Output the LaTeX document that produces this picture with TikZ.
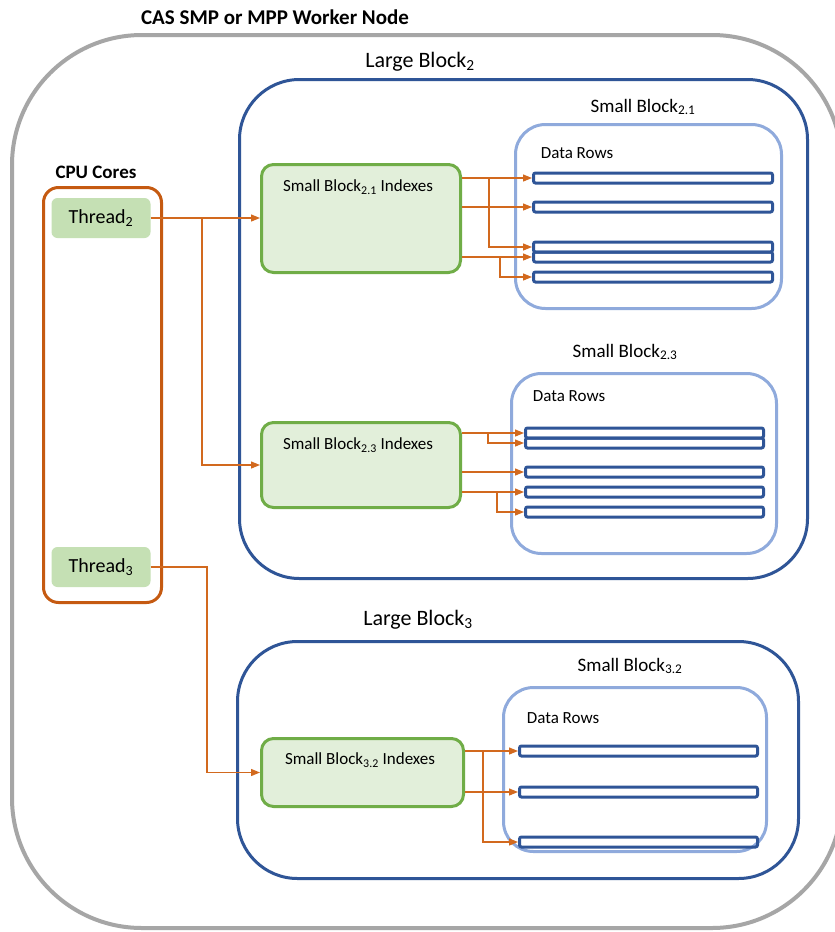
\documentclass[tikz,border=0pt]{standalone}
\usepackage{fontspec}
\setmainfont{Carlito}
\usetikzlibrary{arrows.meta,calc}
\definecolor{outergray}{HTML}{A6A6A6}
\definecolor{darkblue}{HTML}{2F5597}
\definecolor{lightblue}{HTML}{8FAADC}
\definecolor{idxgreen}{HTML}{70AD47}
\definecolor{idxfill}{HTML}{E2EFDA}
\definecolor{thrfill}{HTML}{C5E0B4}
\definecolor{cpuorange}{HTML}{C55A11}
\definecolor{arrorange}{HTML}{D2691E}
\newcommand{\fs}[1]{\fontsize{#1}{#1}\selectfont}
\begin{document}
\begin{tikzpicture}[x=1pt,y=-1pt,
  box/.style={rectangle,anchor=north west,inner sep=0pt},
  lblock/.style={box,draw=darkblue,line width=3pt,rounded corners=60pt},
  sblock/.style={box,draw=lightblue,line width=3pt,rounded corners=30pt},
  idx/.style={box,draw=idxgreen,fill=idxfill,line width=3pt,rounded corners=12pt},
  datarow/.style={rectangle,anchor=west,inner sep=0pt,draw=darkblue,line width=3pt,rounded corners=2pt,minimum height=10pt},
  thr/.style={rectangle,fill=thrfill,rounded corners=6pt,minimum width=99pt,minimum height=40pt,inner sep=0pt,font=\fs{20}},
  arr/.style={draw=arrorange,line width=1.2pt,-{Triangle[length=9pt,width=7pt]}},
  lbl/.style={inner sep=0pt}
]
\useasboundingbox (0,0) rectangle (835,932);
\clip (0,0) rectangle (835,932);
\fill[white] (0,0) rectangle (835,932);

% outer node
\draw[outergray,line width=4pt,rounded corners=130pt] (12,35) rectangle (842,928);
\node[lbl,font=\bfseries\fs{21}] (title) at (275,17) {CAS SMP or MPP Worker Node};

% CPU cores
\node[lbl,font=\bfseries\fs{19}] (cpulbl) at (96,172) {CPU Cores};
\node[box,draw=cpuorange,line width=3pt,rounded corners=15pt,minimum width=118pt,minimum height=415pt] (cpu) at (42,186) {};
\node[thr] (t2) at (101,218) {Thread\textsubscript{2}};
\node[thr] (t3) at (101,567) {Thread\textsubscript{3}};

% Large block 2
\node[lbl,font=\fs{22}] (lb2lbl) at (420,62) {Large Block\textsubscript{2}};
\node[lblock,minimum width=568pt,minimum height=499pt] (lb2) at (238,78) {};

% small block 2.1
\node[lbl,font=\fs{19}] (sb21lbl) at (643,107) {Small Block\textsubscript{2.1}};
\node[sblock,minimum width=266pt,minimum height=184pt] (sb21) at (514,123) {};
\node[lbl,font=\fs{17}] (dr21) at (577,153) {Data Rows};
\node[datarow,minimum width=239pt] (r21a) at (532,178) {};
\node[datarow,minimum width=239pt] (r21b) at (532,207) {};
\node[datarow,minimum width=239pt] (r21c) at (532,247) {};
\node[datarow,minimum width=239pt] (r21d) at (532,257) {};
\node[datarow,minimum width=239pt] (r21e) at (532,277) {};
\node[idx,minimum width=199pt,minimum height=108pt] (i21) at (260,163) {};
\node[lbl,font=\fs{17}] (i21lbl) at (358,187) {Small Block\textsubscript{2.1} Indexes};

% small block 2.3
\node[lbl,font=\fs{19}] (sb23lbl) at (625,352) {Small Block\textsubscript{2.3}};
\node[sblock,minimum width=265pt,minimum height=180pt] (sb23) at (510,372) {};
\node[lbl,font=\fs{17}] (dr23) at (569,396) {Data Rows};
\node[datarow,minimum width=238pt] (r23a) at (524,433) {};
\node[datarow,minimum width=238pt] (r23b) at (524,443) {};
\node[datarow,minimum width=238pt] (r23c) at (524,472) {};
\node[datarow,minimum width=238pt] (r23d) at (524,492) {};
\node[datarow,minimum width=238pt] (r23e) at (524,512) {};
\node[idx,minimum width=199pt,minimum height=85pt] (i23) at (260,421) {};
\node[lbl,font=\fs{17}] (i23lbl) at (358,445) {Small Block\textsubscript{2.3} Indexes};

% Large block 3
\node[lbl,font=\fs{22}] (lb3lbl) at (418,620) {Large Block\textsubscript{3}};
\node[lblock,minimum width=561pt,minimum height=237pt] (lb3) at (236,640) {};
\node[lbl,font=\fs{19}] (sb32lbl) at (630,666) {Small Block\textsubscript{3.2}};
\node[sblock,minimum width=263pt,minimum height=164pt] (sb32) at (502,686) {};
\node[lbl,font=\fs{17}] (dr32) at (563,718) {Data Rows};
\node[datarow,minimum width=238pt] (r32a) at (518,751) {};
\node[datarow,minimum width=238pt] (r32b) at (518,792) {};
\node[datarow,minimum width=238pt] (r32c) at (518,842) {};
\node[idx,minimum width=202pt,minimum height=68pt] (i32) at (260,737) {};
\node[lbl,font=\fs{17}] (i32lbl) at (360,760) {Small Block\textsubscript{3.2} Indexes};

% thread connectors
\coordinate (j2) at (t2.east -| 202,0);
\draw[arr] (t2.east) -- (t2.east -| i21.west);
\draw[arr] (j2) |- (i23.west);
\coordinate (j3) at (207,0);
\draw[arr] (t3.east) -- (t3.east -| j3) |- (i32.west);

% index 2.1 connectors
\draw[arr] (i21.east |- r21a) -- (r21a.west);
\draw[arr] (i21.east |- r21b) -- (r21b.west);
\draw[arr] (i21.east |- r21d) -- (r21d.west);
\draw[arr] ($(i21.east |- r21a)+(27,0)$) |- (r21c.west);
\draw[arr] ($(i21.east |- r21d)+(38,0)$) |- (r21e.west);

% index 2.3 connectors
\draw[arr] (i23.east |- r23a) -- (r23a.west);
\draw[arr] (i23.east |- r23c) -- (r23c.west);
\draw[arr] (i23.east |- r23d) -- (r23d.west);
\draw[arr] ($(i23.east |- r23a)+(26,0)$) |- (r23b.west);
\draw[arr] ($(i23.east |- r23d)+(35,0)$) |- (r23e.west);

% index 3.2 connectors
\draw[arr] (i32.east |- r32a) -- (r32a.west);
\draw[arr] (i32.east |- r32b) -- (r32b.west);
\draw[arr] ($(i32.east |- r32a)+(18,0)$) |- (r32c.west);
\end{tikzpicture}
\end{document}
